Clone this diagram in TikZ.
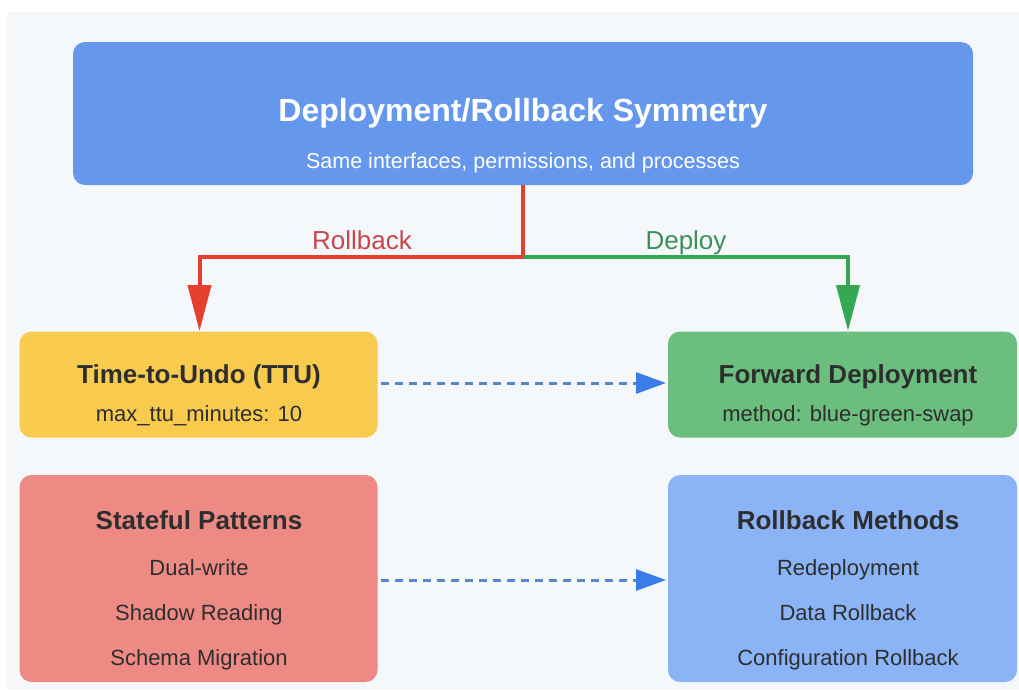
\documentclass[tikz,border=0pt]{standalone}
\usepackage{fontspec}
\setmainfont{Liberation Sans}
\usetikzlibrary{arrows.meta}
\definecolor{panelbg}{HTML}{F5F8FB}
\definecolor{topblue}{HTML}{6598EC}
\definecolor{ttuyellow}{HTML}{F8CB4E}
\definecolor{fwdgreen}{HTML}{6CBE7F}
\definecolor{statered}{HTML}{EE8A84}
\definecolor{methblue}{HTML}{8AB4F6}
\definecolor{rbred}{HTML}{E5402F}
\definecolor{dpgreen}{HTML}{34A853}
\definecolor{rblabel}{HTML}{C9464A}
\definecolor{dplabel}{HTML}{3F8F5A}
\definecolor{dashblue}{HTML}{5B86C8}
\definecolor{headblue}{HTML}{3A7DE8}
\definecolor{darktext}{HTML}{2E2E2E}
\tikzset{
  box/.style={rounded corners=12pt, draw=none, inner sep=0pt},
  even/.style={text height=0.72em, text depth=0em},
  maintitle/.style={even, font=\bfseries\fontsize{32}{36}\selectfont, text=white},
  mainsub/.style={even, font=\fontsize{21.5}{24}\selectfont, text=white},
  boxtitle/.style={even, font=\bfseries\fontsize{26}{30}\selectfont, text=darktext},
  boxtext/.style={even, font=\fontsize{22}{26}\selectfont, text=darktext},
  flowlabel/.style={even, font=\fontsize{26}{30}\selectfont},
  rbline/.style={draw=rbred, line width=4pt},
  dpline/.style={draw=dpgreen, line width=4pt},
  bigtip/.style={-{Triangle[length=46pt,width=23pt]}},
  dasharrow/.style={draw=dashblue, line width=3pt, dash pattern=on 8pt off 6pt,
    -{Triangle[length=30pt,width=21pt,fill=headblue,color=headblue]}},
}
\begin{document}
\begin{tikzpicture}[x=1pt,y=-1pt]
\useasboundingbox (0,0) rectangle (1019,689);
\fill[white] (0,0) rectangle (1019,689);
\fill[panelbg] (7,12) rectangle (1019,689);

% boxes
\node[box, fill=topblue, minimum width=900pt, minimum height=143pt] (top) at (523,113.5) {};
\node[box, fill=ttuyellow, minimum width=358pt, minimum height=106pt] (ttu) at (198.5,384.5) {};
\node[box, fill=fwdgreen, minimum width=349pt, minimum height=106pt] (fwd) at (842.5,384.5) {};
\node[box, fill=statered, minimum width=358pt, minimum height=207pt] (state) at (198.5,578.5) {};
\node[box, fill=methblue, minimum width=349pt, minimum height=207pt] (meth) at (842.5,578.5) {};

% texts
\node[maintitle] (toptitle) at (523,118) {Deployment/Rollback Symmetry};
\node[mainsub] (topsub) at (523,165) {Same interfaces, permissions, and processes};

\node[boxtitle] (ttutitle) at (199,380) {Time-to-Undo (TTU)};
\node[boxtext] (ttusub) at (199,418) {max\_ttu\_minutes: 10};

\node[boxtitle] (fwdtitle) at (848,380) {Forward Deployment};
\node[boxtext] (fwdsub) at (848,418) {method: blue-green-swap};

\node[boxtitle] (statetitle) at (199,526) {Stateful Patterns};
\node[boxtext] (state1) at (199,572) {Dual-write};
\node[boxtext] (state2) at (199,617) {Shadow Reading};
\node[boxtext] (state3) at (199,662) {Schema Migration};

\node[boxtitle] (methtitle) at (848,526) {Rollback Methods};
\node[boxtext] (meth1) at (848,572) {Redeployment};
\node[boxtext] (meth2) at (848,617) {Data Rollback};
\node[boxtext] (meth3) at (848,662) {Configuration Rollback};

% connectors
\coordinate (split) at (523,257);
\coordinate (fwdin) at (848,331);
\coordinate (ttuin) at (199.5,331);
\draw[rbline] (top.south) -- (split);
\draw[rbline, bigtip, rbred] (split) -| (ttuin);
\draw[dpline, bigtip, dpgreen] (split) -| (fwdin);
\node[flowlabel, text=rblabel] (rblab) at (362,246) {Rollback};
\node[flowlabel, text=dplabel] (dplab) at (686,246) {Deploy};

\coordinate (ttuout) at (381,383);
\coordinate (fwdarr) at (666,383);
\coordinate (stateout) at (381,580);
\coordinate (metharr) at (666,580);
\draw[dasharrow] (ttuout) -- (fwdarr);
\draw[dasharrow] (stateout) -- (metharr);
\end{tikzpicture}
\end{document}
